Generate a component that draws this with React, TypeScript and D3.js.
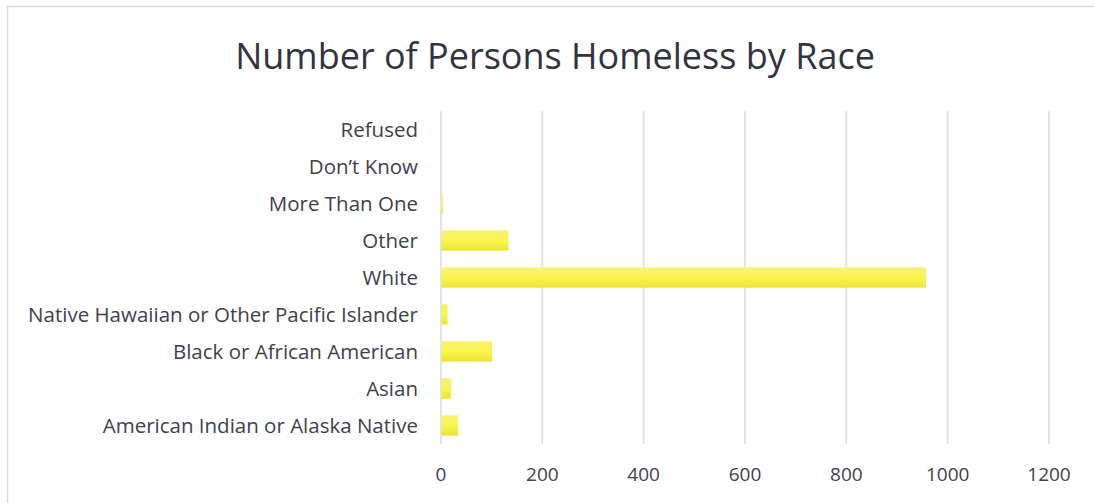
import React from "react";
import * as d3 from "d3";

const categories = [
  "American Indian or Alaska Native",
  "Asian",
  "Black or African American",
  "Native Hawaiian or Other Pacific Islander",
  "White",
  "Other",
  "More Than One",
  "Don\u2019t Know",
  "Refused",
];
const values = [33, 19, 100, 12, 956, 132, 3, 0, 0];
const xTicks = [0, 200, 400, 600, 800, 1000, 1200];
const title = "Number of Persons Homeless by Race";

export default function App() {
  const W = 1094;
  const H = 503;
  const left = 441;
  const right = 1049;
  const top = 111;
  const bottom = 444;

  const x = d3.scaleLinear().domain([0, 1200]).range([left, right]);
  const y = d3
    .scaleBand<string>()
    .domain([...categories].reverse())
    .range([top, bottom])
    .paddingInner(0.45)
    .paddingOuter(0.225);

  const font = "'Open Sans', sans-serif";
  const textColor = "#40404c";

  return (
    <svg
      width={W}
      height={H}
      style={{ position: "absolute", left: 0, top: 0, background: "#fff" }}
    >
      <defs>
        <linearGradient id="barGrad" x1="0" y1="0" x2="0" y2="1">
          <stop offset="0%" stopColor="#f8f172" />
          <stop offset="50%" stopColor="#faf44e" />
          <stop offset="100%" stopColor="#ebe536" />
        </linearGradient>
      </defs>
      <rect x={7.5} y={6.5} width={W + 10} height={H + 10} fill="#fff" stroke="#d9d9d9" strokeWidth={1.5} />
      <text
        x={555}
        y={69}
        textAnchor="middle"
        fontFamily={font}
        fontSize={36}
        fill="#33333f"
      >
        {title}
      </text>
      {xTicks.map((t) => (
        <g key={t}>
          <line x1={x(t)} x2={x(t)} y1={top} y2={bottom} stroke="#dcdce4" strokeWidth={1.6} />
          <text
            x={x(t)}
            y={481}
            textAnchor="middle"
            fontFamily={font}
            fontSize={19}
            fill={textColor}
          >
            {t}
          </text>
        </g>
      ))}
      {categories.map((c, i) => (
        <g key={c}>
          <rect
            x={x(0) + 0.5}
            y={y(c)!}
            width={Math.max(0, x(values[i]) - x(0))}
            height={y.bandwidth()}
            fill="url(#barGrad)"
          />
          <text
            x={418}
            y={y(c)! + y.bandwidth() / 2}
            dy="0.35em"
            textAnchor="end"
            fontFamily={font}
            fontSize={20.5}
            fill={textColor}
          >
            {c}
          </text>
        </g>
      ))}
    </svg>
  );
}
